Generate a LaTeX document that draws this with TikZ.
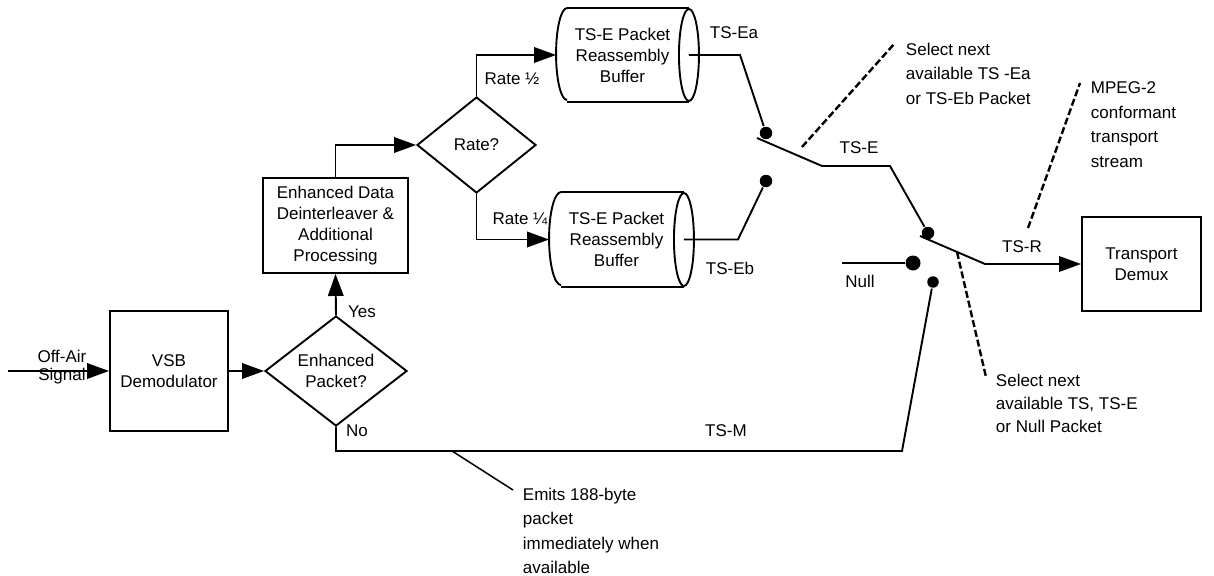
\documentclass[tikz,border=0pt]{standalone}
\usepackage{fontspec}
\setmainfont{Liberation Sans}
\usetikzlibrary{arrows.meta,shapes.geometric,calc}
\begin{document}
\begin{tikzpicture}[x=1pt,y=-1pt,
  line width=1.9pt, line join=miter,
  every node/.style={font=\fontsize{17}{21}\selectfont, inner sep=0pt},
  box/.style={draw, rectangle, align=center},
  dmd/.style={draw, diamond, align=center},
  buf/.style={rectangle, align=center},
  arr/.style={-{Triangle[length=22pt,width=15.5pt]}},
  dot/.style={circle, fill, minimum size=12.5pt},
  lbl/.style={anchor=base},
  note/.style={align=left, anchor=north west, font=\fontsize{17}{24.5}\selectfont},
  callout/.style={dash pattern=on 7pt off 3pt, line width=2.4pt}]
\useasboundingbox (0,0) rectangle (1214,575);

% main blocks
\node[box, minimum width=118pt, minimum height=120pt] (vsb) at (169,371) {VSB\\Demodulator};
\node[dmd, minimum width=142pt, minimum height=98pt] (enh) at (336,371) {Enhanced\\Packet?};
\node[box, minimum width=145pt, minimum height=95pt] (edp) at (335.5,225.5) {Enhanced Data\\Deinterleaver \&\\Additional\\Processing};
\node[dmd, minimum width=119pt, minimum height=96pt] (rate) at (476.5,145) {Rate?};
\node[buf, minimum width=131pt, minimum height=92pt] (b1) at (622.5,55) {TS-E Packet\\Reassembly\\Buffer};
\node[buf, minimum width=133pt, minimum height=93pt] (b2) at (616.5,239.5) {TS-E Packet\\Reassembly\\Buffer};
\node[box, minimum width=119pt, minimum height=94pt] (dmx) at (1141.5,264) {Transport\\Demux};

% buffer outlines
\draw ([xshift=11pt]b1.north west) -- (b1.north east) (b1.south east) -- ([xshift=11pt]b1.south west);
\draw ([xshift=11pt]b1.north west) arc[start angle=90, end angle=270, x radius=11pt, y radius=46pt];
\draw (b1.east) ellipse[x radius=10pt, y radius=46pt];
\draw ([xshift=12pt]b2.north west) -- (b2.north east) (b2.south east) -- ([xshift=12pt]b2.south west);
\draw ([xshift=12pt]b2.north west) arc[start angle=90, end angle=270, x radius=12pt, y radius=46.5pt];
\draw (b2.east) ellipse[x radius=10pt, y radius=46.5pt];

% input
\coordinate (oa) at (8,371);
\draw[arr] (oa) -- (vsb.west);
\node[align=center, font=\fontsize{17}{18}\selectfont] (oalbl) at (62,367) {Off-Air\\Signal};

% flow
\draw[arr] (vsb.east) -- (enh.west);
\draw[arr] (enh.north) -- (edp.south);
\draw[arr] (edp.north) |- (rate.west);
\draw[arr] (rate.north) |- (b1.west);
\draw[arr] (rate.south) |- (b2.west);

% labels
\node[lbl] (yes) at (362,317) {Yes};
\node[lbl] (no) at (357,436) {No};
\node[lbl] (r2) at (512,85) {Rate ½};
\node[lbl] (r4) at (520,224) {Rate ¼};
\node[lbl] (tsea) at (734,39) {TS-Ea};
\node[lbl] (tseb) at (730,274) {TS-Eb};
\node[lbl] (tse) at (859,153) {TS-E};
\node[lbl] (tsr) at (1022,252) {TS-R};
\node[lbl] (nul) at (860,287) {Null};
\node[lbl] (tsm) at (726,436) {TS-M};

% switch contacts
\node[dot] (dA) at (766,133) {};
\node[dot] (dB) at (766,181) {};
\node[dot] (dC) at (928,233) {};
\node[dot, minimum size=15pt] (dN) at (913,263) {};
\node[dot, minimum size=11.5pt] (dM) at (933,282) {};

\draw (b1.east) -- (740,55) -- (dA);
\draw (b2.east) -- (738,239.5) -- (dB);
\coordinate (s1) at (757,138);
\draw (s1) -- (822,166) -- (890,166) -- (dC);
\coordinate (s2) at (920,236);
\draw[arr] (s2) -- (985,264) -- (dmx.west);
\coordinate (ns) at (842,263);
\draw (ns) -- (dN);
\draw (enh.south) -- (336,451) -- (902,451) -- (dM);

% callouts
\coordinate (c1a) at (802,147);
\coordinate (c1b) at (895,43);
\draw[callout] (c1a) -- (c1b);
\node[note] (n1) at (905,42) {Select next\\available TS -Ea\\or TS-Eb Packet};

\coordinate (c2a) at (1028,228);
\coordinate (c2b) at (1080,83);
\draw[callout] (c2a) -- (c2b);
\node[note] (n2) at (1090,81) {MPEG-2\\conformant\\transport\\stream};

\coordinate (c3a) at (957,252);
\coordinate (c3b) at (986,377);
\draw[callout] (c3a) -- (c3b);
\node[note, font=\fontsize{17}{23}\selectfont] (n3) at (995,373) {Select next\\available TS, TS-E\\or Null Packet};

\coordinate (c4a) at (452,451);
\coordinate (c4b) at (513,490);
\draw[line width=1.5pt] (c4a) -- (c4b);
\node[note] (n4) at (522,487) {Emits 188-byte\\packet\\immediately when\\available};
\end{tikzpicture}
\end{document}
